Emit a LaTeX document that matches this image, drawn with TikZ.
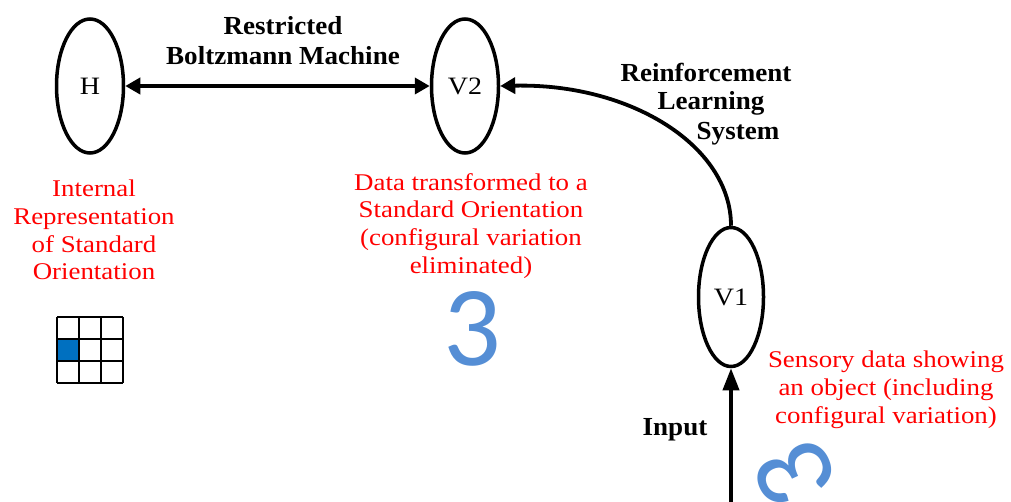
\documentclass[tikz,border=0pt]{standalone}
\usepackage{fontspec}
\setmainfont{Liberation Serif}
\newfontfamily\notefont{Liberation Serif}[FakeStretch=1.12]
\newfontfamily\headfont{Liberation Serif}[FakeStretch=1.04]
\newfontfamily\digitfont{Carlito}
\usetikzlibrary{arrows.meta,shapes.geometric}
\definecolor{notered}{RGB}{255,0,0}
\definecolor{digitblue}{RGB}{85,142,213}
\definecolor{cellblue}{RGB}{0,112,192}
\tikzset{
  headtip/.tip={Triangle[length=15pt,width=16pt]},
  longtip/.tip={Triangle[length=22pt,width=16pt]},
  unit/.style={ellipse, draw, line width=3.5pt, inner sep=0pt,
    minimum width=67pt, minimum height=134pt,
    font=\notefont\fontsize{25}{29}\selectfont},
  heading/.style={font=\headfont\bfseries\fontsize{26}{30}\selectfont, align=center, inner sep=0pt},
  note/.style={font=\notefont\fontsize{24}{27.8}\selectfont, text=notered, align=center, inner sep=0pt},
  digit/.style={font=\digitfont\fontsize{114}{114}\selectfont, text=digitblue, inner sep=0pt},
  link/.style={line width=3.8pt},
}
\begin{document}
\begin{tikzpicture}[x=1pt,y=-1pt]
\useasboundingbox (0,0) rectangle (1011,502);

% units
\node[unit] (H)  at (90,86)  {H};
\node[unit] (V2) at (465,86) {V2};
\node[unit, minimum width=65pt, minimum height=139pt] (V1) at (731,297) {V1};

% Restricted Boltzmann Machine link
\draw[link, headtip-headtip] (H.east) -- (V2.west);
\node[heading] (rbm) at (283,41) {Restricted\\Boltzmann Machine};

% reinforcement learning link
\draw[link, -headtip] (V1.north) .. controls +(0,-80) and +(130,-3) .. (V2.east);
\node[heading] (rl1) at (706,72)  {Reinforcement};
\node[heading] (rl2) at (711,103) {Learning};
\node[heading] (rl3) at (738,134) {System};

% input
\coordinate (in) at (731,502);
\draw[link, -longtip] (in) -- (V1.south);
\node[heading] (inp) at (675,430) {Input};

% notes
\node[note] (nH)  at (94,230)  {Internal\\Representation\\of Standard\\Orientation};
\node[note] (nV2) at (471,226) {Data transformed to a\\Standard Orientation\\(configural variation\\eliminated)};
\node[note] (nV1) at (886,390) {Sensory data showing\\an object (including\\configural variation)};

% digits
\node[digit] (d1) at (472,329) {3};
\node[digit, rotate=115] (d2) at (795,475) {3};

% grid of the internal representation
\fill[cellblue] (57,339) rectangle (79,361);
\foreach \k in {0,...,3} {
  \draw[line width=2pt] (57+22*\k,317) -- (57+22*\k,383);
  \draw[line width=2pt] (57,317+22*\k) -- (123,317+22*\k);
}
\end{tikzpicture}
\end{document}
